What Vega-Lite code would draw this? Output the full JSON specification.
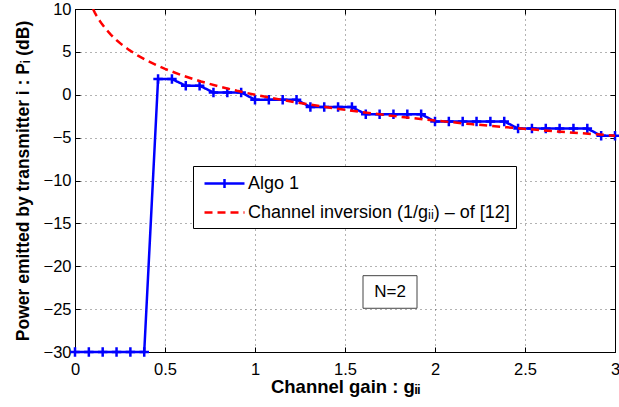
{
  "$schema": "https://vega.github.io/schema/vega-lite/v6.json",
  "width": 540,
  "height": 343,
  "autosize": "none",
  "padding": {"left": 75, "top": 9, "right": 4, "bottom": 55},
  "background": "white",
  "config": {
    "font": "Liberation Sans",
    "view": {"stroke": "black", "strokeWidth": 1},
    "axis": {
      "labelFont": "Liberation Sans",
      "labelFontSize": 16.5,
      "labelColor": "black",
      "titleFont": "Liberation Sans",
      "titleFontSize": 18.5,
      "titleFontWeight": "bold",
      "titleColor": "black",
      "tickColor": "black",
      "tickSize": -5,
      "tickWidth": 1,
      "domainColor": "black",
      "gridColor": "#000000",
      "gridDash": [1, 4],
      "gridOpacity": 0.6,
      "gridWidth": 1
    }
  },
  "datasets": {
    "algo": [
      {"series": "Algo 1", "g": 0.0, "p": -30},
      {"series": "Algo 1", "g": 0.0769, "p": -30},
      {"series": "Algo 1", "g": 0.1538, "p": -30},
      {"series": "Algo 1", "g": 0.2308, "p": -30},
      {"series": "Algo 1", "g": 0.3077, "p": -30},
      {"series": "Algo 1", "g": 0.3846, "p": -30},
      {"series": "Algo 1", "g": 0.4615, "p": 1.83},
      {"series": "Algo 1", "g": 0.5385, "p": 1.83},
      {"series": "Algo 1", "g": 0.6154, "p": 1.05},
      {"series": "Algo 1", "g": 0.6923, "p": 1.05},
      {"series": "Algo 1", "g": 0.7692, "p": 0.27},
      {"series": "Algo 1", "g": 0.8462, "p": 0.27},
      {"series": "Algo 1", "g": 0.9231, "p": 0.27},
      {"series": "Algo 1", "g": 1.0, "p": -0.58},
      {"series": "Algo 1", "g": 1.0769, "p": -0.58},
      {"series": "Algo 1", "g": 1.1538, "p": -0.58},
      {"series": "Algo 1", "g": 1.2308, "p": -0.58},
      {"series": "Algo 1", "g": 1.3077, "p": -1.44},
      {"series": "Algo 1", "g": 1.3846, "p": -1.44},
      {"series": "Algo 1", "g": 1.4615, "p": -1.44},
      {"series": "Algo 1", "g": 1.5385, "p": -1.44},
      {"series": "Algo 1", "g": 1.6154, "p": -2.28},
      {"series": "Algo 1", "g": 1.6923, "p": -2.28},
      {"series": "Algo 1", "g": 1.7692, "p": -2.28},
      {"series": "Algo 1", "g": 1.8462, "p": -2.28},
      {"series": "Algo 1", "g": 1.9231, "p": -2.28},
      {"series": "Algo 1", "g": 2.0, "p": -3.11},
      {"series": "Algo 1", "g": 2.0769, "p": -3.11},
      {"series": "Algo 1", "g": 2.1538, "p": -3.11},
      {"series": "Algo 1", "g": 2.2308, "p": -3.11},
      {"series": "Algo 1", "g": 2.3077, "p": -3.11},
      {"series": "Algo 1", "g": 2.3846, "p": -3.11},
      {"series": "Algo 1", "g": 2.4615, "p": -3.94},
      {"series": "Algo 1", "g": 2.5385, "p": -3.94},
      {"series": "Algo 1", "g": 2.6154, "p": -3.94},
      {"series": "Algo 1", "g": 2.6923, "p": -3.94},
      {"series": "Algo 1", "g": 2.7692, "p": -3.94},
      {"series": "Algo 1", "g": 2.8462, "p": -3.94},
      {"series": "Algo 1", "g": 2.9231, "p": -4.78},
      {"series": "Algo 1", "g": 3.0, "p": -4.78}
    ],
    "inv": [
      {"series": "Channel inversion (1/gᵢᵢ) – of [12]", "g": 0.1, "p": 10.0},
      {"series": "Channel inversion (1/gᵢᵢ) – of [12]", "g": 0.11, "p": 9.586},
      {"series": "Channel inversion (1/gᵢᵢ) – of [12]", "g": 0.12, "p": 9.208},
      {"series": "Channel inversion (1/gᵢᵢ) – of [12]", "g": 0.13, "p": 8.861},
      {"series": "Channel inversion (1/gᵢᵢ) – of [12]", "g": 0.14, "p": 8.539},
      {"series": "Channel inversion (1/gᵢᵢ) – of [12]", "g": 0.15, "p": 8.239},
      {"series": "Channel inversion (1/gᵢᵢ) – of [12]", "g": 0.17, "p": 7.696},
      {"series": "Channel inversion (1/gᵢᵢ) – of [12]", "g": 0.2, "p": 6.99},
      {"series": "Channel inversion (1/gᵢᵢ) – of [12]", "g": 0.23, "p": 6.383},
      {"series": "Channel inversion (1/gᵢᵢ) – of [12]", "g": 0.26, "p": 5.85},
      {"series": "Channel inversion (1/gᵢᵢ) – of [12]", "g": 0.3, "p": 5.229},
      {"series": "Channel inversion (1/gᵢᵢ) – of [12]", "g": 0.35, "p": 4.559},
      {"series": "Channel inversion (1/gᵢᵢ) – of [12]", "g": 0.4, "p": 3.979},
      {"series": "Channel inversion (1/gᵢᵢ) – of [12]", "g": 0.45, "p": 3.468},
      {"series": "Channel inversion (1/gᵢᵢ) – of [12]", "g": 0.5, "p": 3.01},
      {"series": "Channel inversion (1/gᵢᵢ) – of [12]", "g": 0.6, "p": 2.218},
      {"series": "Channel inversion (1/gᵢᵢ) – of [12]", "g": 0.7, "p": 1.549},
      {"series": "Channel inversion (1/gᵢᵢ) – of [12]", "g": 0.8, "p": 0.969},
      {"series": "Channel inversion (1/gᵢᵢ) – of [12]", "g": 0.9, "p": 0.458},
      {"series": "Channel inversion (1/gᵢᵢ) – of [12]", "g": 1.0, "p": 0.0},
      {"series": "Channel inversion (1/gᵢᵢ) – of [12]", "g": 1.2, "p": -0.792},
      {"series": "Channel inversion (1/gᵢᵢ) – of [12]", "g": 1.4, "p": -1.461},
      {"series": "Channel inversion (1/gᵢᵢ) – of [12]", "g": 1.6, "p": -2.041},
      {"series": "Channel inversion (1/gᵢᵢ) – of [12]", "g": 1.8, "p": -2.553},
      {"series": "Channel inversion (1/gᵢᵢ) – of [12]", "g": 2.0, "p": -3.01},
      {"series": "Channel inversion (1/gᵢᵢ) – of [12]", "g": 2.2, "p": -3.424},
      {"series": "Channel inversion (1/gᵢᵢ) – of [12]", "g": 2.4, "p": -3.802},
      {"series": "Channel inversion (1/gᵢᵢ) – of [12]", "g": 2.6, "p": -4.15},
      {"series": "Channel inversion (1/gᵢᵢ) – of [12]", "g": 2.8, "p": -4.472},
      {"series": "Channel inversion (1/gᵢᵢ) – of [12]", "g": 3.0, "p": -4.771}
    ],
    "note": [
      {"label": "N=2"}
    ]
  },
  "layer": [
    {
      "data": {"name": "algo"},
      "mark": {"type": "line", "strokeWidth": 2.5},
      "encoding": {
        "x": {
          "field": "g", "type": "quantitative",
          "scale": {"domain": [0, 3], "nice": false, "zero": false},
          "axis": {"values": [0, 0.5, 1, 1.5, 2, 2.5, 3], "format": "~g", "title": "Channel gain : gᵢᵢ", "labelPadding": 14, "titlePadding": 0, "labelFlush": false}
        },
        "y": {
          "field": "p", "type": "quantitative",
          "scale": {"domain": [-30, 10], "nice": false, "zero": false},
          "axis": {"values": [-30, -25, -20, -15, -10, -5, 0, 5, 10], "title": "Power emitted by transmitter i : Pᵢ (dB)", "titleFontSize": 17.5, "labelPadding": 9, "titlePadding": 11, "labelFlush": false}
        },
        "color": {
          "field": "series", "type": "nominal",
          "scale": {"domain": ["Algo 1", "Channel inversion (1/gᵢᵢ) – of [12]"], "range": ["#0000ff", "#ff0000"]},
          "legend": {
            "orient": "none", "legendX": 118, "legendY": 157, "title": null,
            "direction": "vertical", "strokeColor": "black", "fillColor": "white",
            "padding": 6, "labelFontSize": 18, "labelFont": "Liberation Sans", "labelColor": "black",
            "symbolType": "stroke", "symbolSize": 400, "symbolStrokeWidth": 2.5, "symbolOffset": 14,
            "rowPadding": 8, "labelOffset": 12, "labelLimit": 400,
            "encode": {
              "symbols": {"update": {"shape": {"signal": "datum.label == 'Algo 1' ? 'M-2,0H2M0,-0.45V0.45' : 'M-2,0H2'"}}},
              "labels": {"update": {"text": {"signal": "datum.label == 'Algo 1' ? datum.label : datum.label + '\u00a0\u00a0\u00a0\u00a0\u00a0'"}}}
            }
          }
        },
        "strokeDash": {
          "field": "series", "type": "nominal",
          "scale": {"domain": ["Algo 1", "Channel inversion (1/gᵢᵢ) – of [12]"], "range": [[1, 0], [8, 5]]},
          "legend": {
            "orient": "none", "legendX": 118, "legendY": 157, "title": null,
            "direction": "vertical", "strokeColor": "black", "fillColor": "white",
            "padding": 6, "labelFontSize": 18, "labelFont": "Liberation Sans", "labelColor": "black",
            "symbolType": "stroke", "symbolSize": 400, "symbolStrokeWidth": 2.5, "symbolOffset": 14,
            "rowPadding": 8, "labelOffset": 12, "labelLimit": 400,
            "encode": {
              "symbols": {"update": {"shape": {"signal": "datum.label == 'Algo 1' ? 'M-2,0H2M0,-0.45V0.45' : 'M-2,0H2'"}}},
              "labels": {"update": {"text": {"signal": "datum.label == 'Algo 1' ? datum.label : datum.label + '\u00a0\u00a0\u00a0\u00a0\u00a0'"}}}
            }
          }
        }
      }
    },
    {
      "data": {"name": "algo"},
      "mark": {"type": "point", "shape": "M-1,0H1M0,-1V1", "filled": false, "size": 90, "strokeWidth": 2.5, "color": "#0000ff", "opacity": 1},
      "encoding": {
        "x": {"field": "g", "type": "quantitative", "axis": null},
        "y": {"field": "p", "type": "quantitative", "axis": null}
      }
    },
    {
      "data": {"name": "inv"},
      "mark": {"type": "line", "strokeWidth": 2.5, "clip": true},
      "encoding": {
        "x": {"field": "g", "type": "quantitative", "axis": null},
        "y": {"field": "p", "type": "quantitative", "axis": null},
        "color": {"field": "series", "type": "nominal"},
        "strokeDash": {"field": "series", "type": "nominal"}
      }
    },
    {
      "data": {"name": "note"},
      "mark": {"type": "rect", "fill": "white", "stroke": "#444444", "strokeWidth": 1},
      "encoding": {
        "x": {"datum": 1.6, "type": "quantitative", "axis": {"orient": "top", "labels": false, "title": null, "grid": false, "domain": false, "values": [0, 0.5, 1, 1.5, 2, 2.5, 3]}},
        "x2": {"datum": 1.9},
        "y": {"datum": -21.1, "type": "quantitative", "axis": {"orient": "right", "labels": false, "title": null, "grid": false, "domain": false, "values": [-30, -25, -20, -15, -10, -5, 0, 5, 10]}},
        "y2": {"datum": -24.9}
      }
    },
    {
      "data": {"name": "note"},
      "mark": {"type": "text", "fontSize": 17, "font": "Liberation Sans", "color": "black", "align": "center", "baseline": "middle"},
      "encoding": {
        "x": {"datum": 1.75, "type": "quantitative", "axis": null},
        "y": {"datum": -23.0, "type": "quantitative", "axis": null},
        "text": {"field": "label"}
      }
    }
  ],
  "resolve": {"axis": {"x": "independent", "y": "independent"}}
}
